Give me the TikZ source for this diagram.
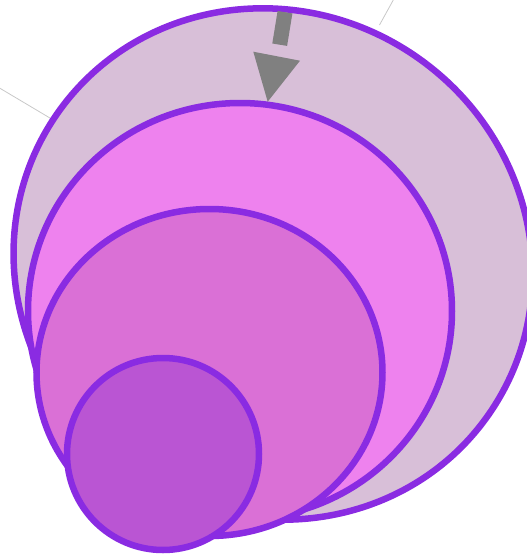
\documentclass[tikz,border=0pt]{standalone}
\usetikzlibrary{shapes.geometric}
\definecolor{ringc}{HTML}{8A2BE2}
\definecolor{thistlec}{HTML}{D8BFD8}
\definecolor{violetc}{HTML}{EE82EE}
\definecolor{orchidc}{HTML}{DA70D6}
\definecolor{morchidc}{HTML}{BA55D3}
\definecolor{arrowc}{HTML}{808080}
\definecolor{guidec}{HTML}{C8C8C8}
\begin{document}
\begin{tikzpicture}[x=1pt,y=-1pt,
  ring/.style={ellipse, draw=ringc, line width=6.5pt, inner sep=0pt, outer sep=0pt},
  guide/.style={draw=guidec, line width=0.8pt},
  shaft/.style={draw=arrowc, line width=15pt, line cap=butt},
  headtri/.style={fill=arrowc}]
\useasboundingbox (0,0) rectangle (527,555);
\coordinate (g1a) at (0,88.3);
\coordinate (g1b) at (53.3,120);
\coordinate (g2a) at (379.5,25);
\coordinate (g2b) at (393.3,0);
\draw[guide] (g1a) -- (g1b);
\draw[guide] (g2a) -- (g2b);
\node[ring, fill=thistlec, minimum width=526pt, minimum height=504pt, rotate=-35] (outer) at (273,264) {};
\node[ring, fill=violetc, minimum width=424pt, minimum height=416pt] (second) at (240,311) {};
\node[ring, fill=orchidc, minimum width=346pt, minimum height=327pt] (third) at (209.5,372.5) {};
\node[ring, fill=morchidc, minimum width=192pt, minimum height=192pt] (inner) at (163,454) {};
\coordinate (sa) at (285,12.2);
\coordinate (sb) at (279.7,44.7);
\coordinate (h1) at (253.3,51.7);
\coordinate (h2) at (300,60.7);
\coordinate (tip) at (267.7,101.7);
\draw[shaft] (sa) -- (sb);
\fill[headtri] (h1) -- (h2) -- (tip) -- cycle;
\end{tikzpicture}
\end{document}
